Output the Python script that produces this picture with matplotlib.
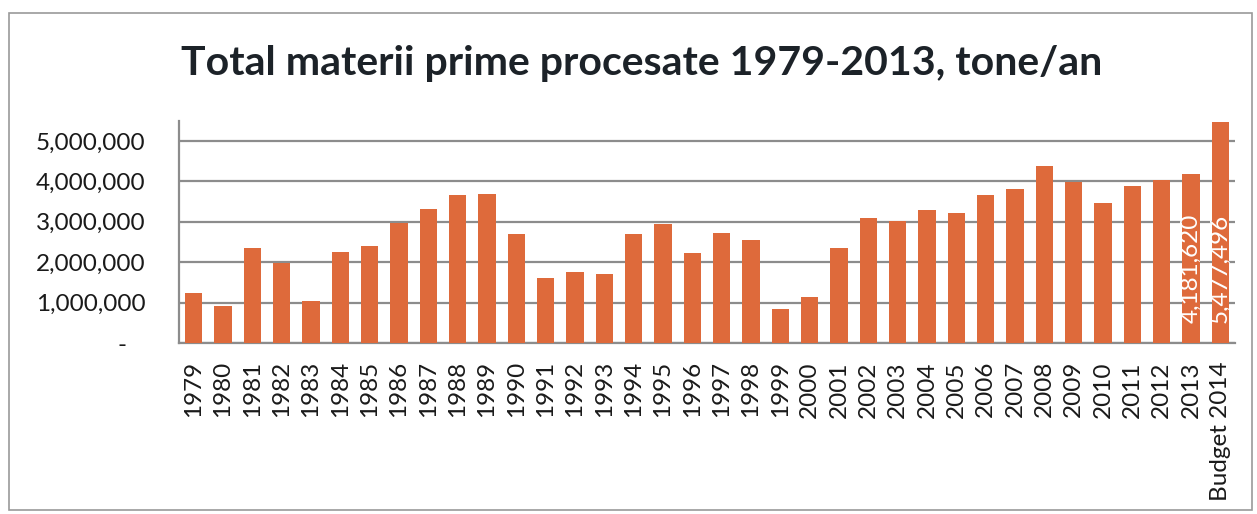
import matplotlib
matplotlib.use("Agg")
import matplotlib.pyplot as plt
from matplotlib.patches import Rectangle
from matplotlib.ticker import FuncFormatter

categories = [str(y) for y in range(1979, 2014)] + ["Budget 2014"]
values = [1250000, 905000, 2340000, 1990000, 1050000, 2260000, 2390000, 2960000,
          3310000, 3660000, 3690000, 2690000, 1620000, 1760000, 1710000, 2690000,
          2940000, 2220000, 2720000, 2540000, 850000, 1130000, 2350000, 3090000,
          3020000, 3280000, 3220000, 3660000, 3810000, 4390000, 3990000, 3470000,
          3880000, 4040000, 4181620, 5477496]
labelled = {"2013": "4,181,620", "Budget 2014": "5,477,496"}
title = "Total materii prime procesate 1979-2013, tone/an"
yticks = [0, 1000000, 2000000, 3000000, 4000000, 5000000]

plt.rcParams['font.family'] = ['Lato', 'DejaVu Sans']

fig = plt.figure(figsize=(12.57, 5.14), dpi=100)
fig.patch.set_facecolor("white")
fig.patches.append(Rectangle((9/1257, 4/514), 1243/1257, 497/514, transform=fig.transFigure,
                             fill=False, edgecolor="#9a9a9a", linewidth=1.2))

ax = fig.add_axes([179/1257, 1-343/514, (1235-179)/1257, (343-120.8)/514])
x = list(range(len(categories)))
ax.bar(x, values, width=0.58, color="#DE6A3B", zorder=3)
ax.set_xlim(-0.5, len(categories) - 0.5)
ax.set_ylim(0, 5.5e6)
ax.set_yticks(yticks)
ax.yaxis.set_major_formatter(FuncFormatter(lambda v, p: "-   " if v == 0 else f"{int(v):,}"))
ax.yaxis.grid(True, color="#8c8c8c", linewidth=1.6, zorder=0)
ax.set_axisbelow(True)
ax.set_xticks(x)
ax.set_xticklabels(categories, rotation=90, fontsize=17.5, color="#1a1a1a")
ax.tick_params(axis="x", length=0, pad=13)
ax.tick_params(axis="y", length=0, pad=24, labelsize=17.5, labelcolor="#1a1a1a")
for s in ["top", "right"]:
    ax.spines[s].set_visible(False)
ax.spines["left"].set_color("#8c8c8c")
ax.spines["left"].set_linewidth(1.6)
ax.spines["bottom"].set_color("#8c8c8c")
ax.spines["bottom"].set_linewidth(1.6)

for i, c in enumerate(categories):
    if c in labelled:
        ax.text(i, 0.5e6, labelled[c], rotation=90, ha="center", va="bottom",
                color="white", fontsize=17.5, zorder=4)

fig.text(642/1257, 1-63/514, title, ha="center", va="center", fontsize=29.5,
         fontweight="bold", color="#1c2228")

fig.savefig("out.png", dpi=100)
